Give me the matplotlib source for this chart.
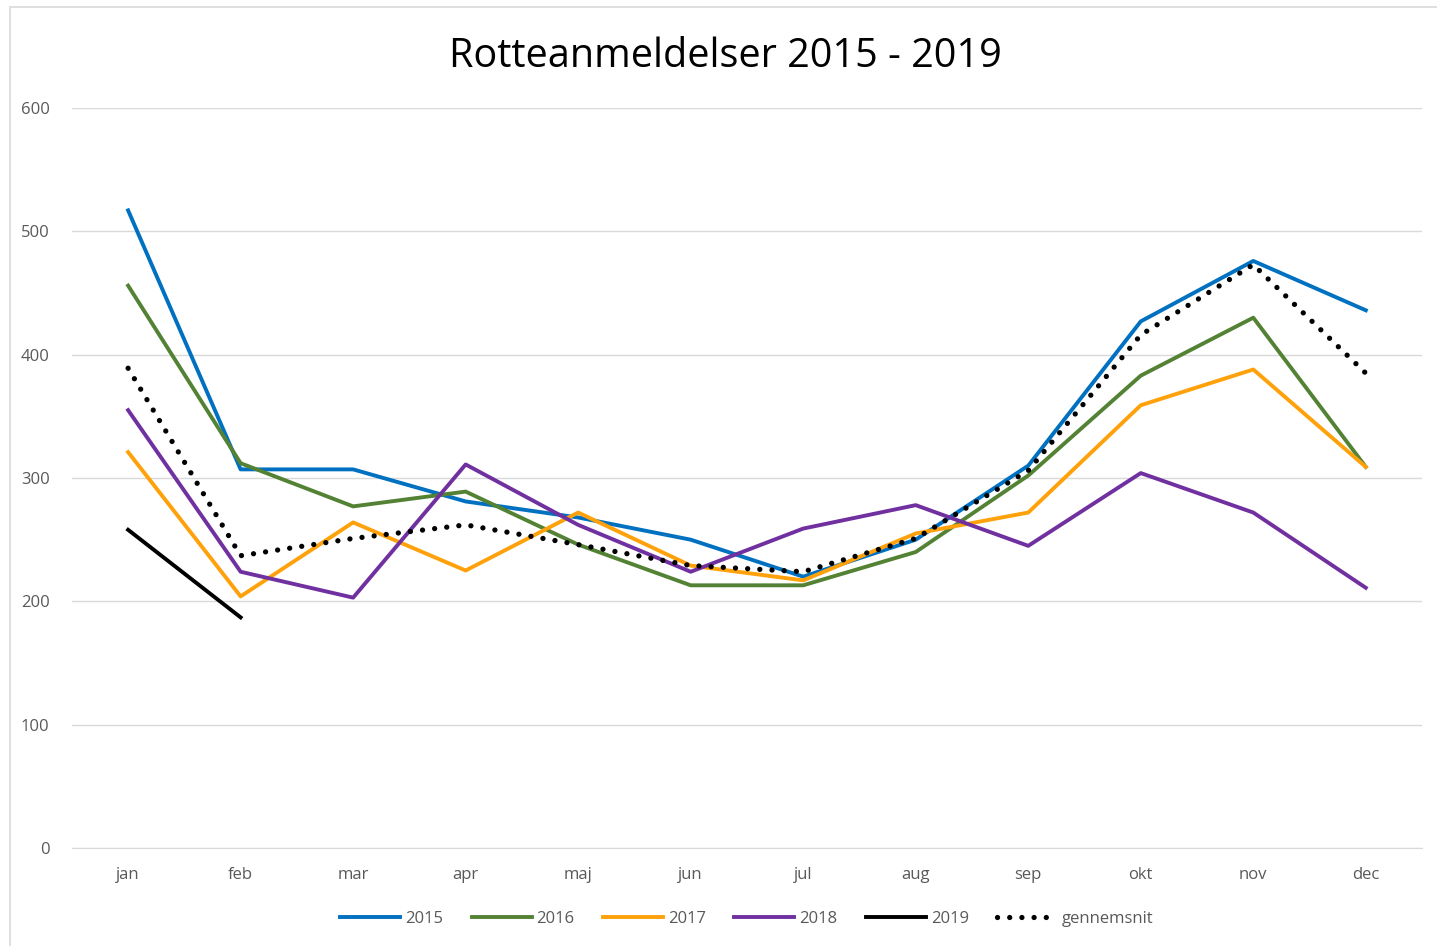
import matplotlib.pyplot as plt
from matplotlib.patches import Rectangle

# data
months = ['jan', 'feb', 'mar', 'apr', 'maj', 'jun', 'jul', 'aug', 'sep', 'okt', 'nov', 'dec']
y2015 = [517, 307, 307, 281, 268, 250, 220, 250, 310, 427, 476, 436]
y2016 = [456, 312, 277, 289, 246, 213, 213, 240, 302, 383, 430, 309]
y2017 = [321, 204, 264, 225, 272, 229, 217, 255, 272, 359, 388, 309]
y2018 = [355, 224, 203, 311, 262, 224, 259, 278, 245, 304, 272, 211]
y2019 = [258, 187]
avg = [389, 237, 251, 262, 246, 229, 224, 251, 306, 416, 473, 385]

plt.rcParams['font.family'] = ['Open Sans', 'DejaVu Sans']
grey = '#595959'

fig = plt.figure(figsize=(14.37, 9.46), dpi=100)
ax = fig.add_axes([0.050, 0.1036, 0.9396, 0.7822])

fig.patches.append(Rectangle((0.007, -0.01), 1.0, 1.0 - 0.007 + 0.01, transform=fig.transFigure,
                             fill=False, edgecolor='#D9D9D9', linewidth=1.2))

x = list(range(len(months)))
lw = 2.8
ax.plot(x, y2015, color='#0070C0', lw=lw, label='2015')
ax.plot(x, y2016, color='#548235', lw=lw, label='2016')
ax.plot(x, y2017, color='#FFA10A', lw=lw, label='2017')
ax.plot(x, y2018, color='#7030A0', lw=lw, label='2018')
ax.plot(x[:len(y2019)], y2019, color='black', lw=lw, label='2019')
ax.plot(x, avg, color='black', lw=3.8, linestyle=(0, (0.01, 2.3)),
        dash_capstyle='round', label='gennemsnit')

ax.set_xlim(-0.5, 11.5)
ax.set_ylim(0, 600)
ax.set_yticks(range(0, 601, 100))
ax.set_xticks(x)
ax.set_xticklabels(months)
ax.grid(axis='y', color='#D9D9D9', lw=1)
ax.set_axisbelow(True)
for s in ['top', 'right', 'left']:
    ax.spines[s].set_visible(False)
ax.spines['bottom'].set_color('#D9D9D9')
ax.tick_params(axis='both', length=0, labelsize=12, colors=grey)
ax.tick_params(axis='y', pad=16)
ax.tick_params(axis='x', pad=14)

fig.text(0.505, 0.940, 'Rotteanmeldelser 2015 - 2019', ha='center', va='center',
         fontsize=28.5, color='black')

leg = ax.legend(loc='upper center', bbox_to_anchor=(0.5, -0.065), ncol=6, frameon=False,
                fontsize=12, handlelength=3.6, handletextpad=0.3, columnspacing=1.7)
for t in leg.get_texts():
    t.set_color(grey)

fig.savefig('out.png', dpi=100)
